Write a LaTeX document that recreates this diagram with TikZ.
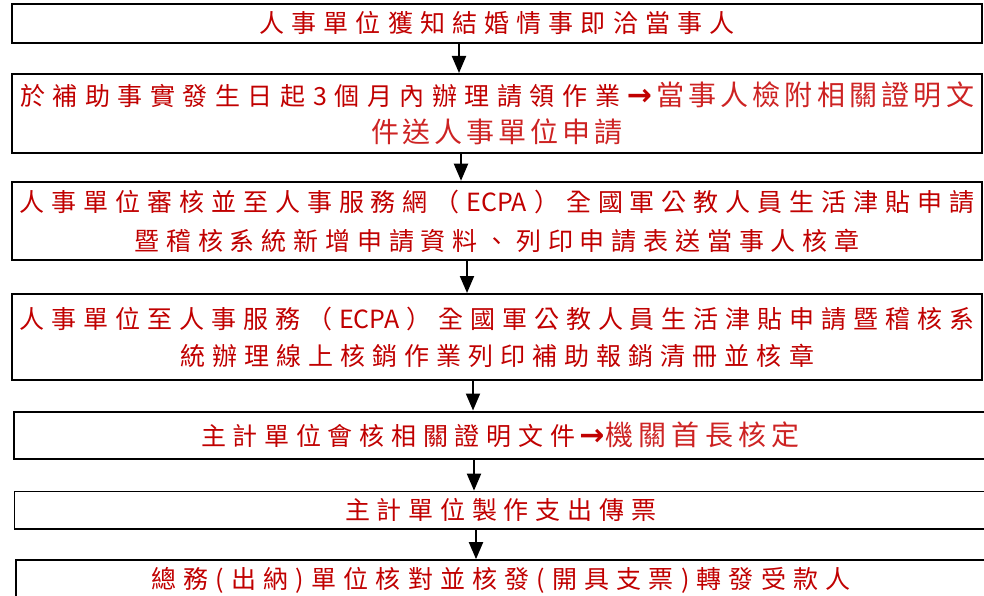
\documentclass[tikz,border=0pt]{standalone}
\usepackage{fontspec}
\newfontfamily\cjk{Noto Sans CJK TC}
\newfontfamily\symf{DejaVu Sans}
\usetikzlibrary{arrows.meta}
\definecolor{txtred}{RGB}{192,0,0}
\definecolor{txtredb}{RGB}{205,35,35}
% spread the characters of a line evenly over a given width
\def\sprloop#1{\ifx#1\relax\else\hskip 0pt plus 1fil\relax#1\expandafter\sprloop\fi}
\def\sprstart#1{#1\sprloop}
\newcommand\spr[2]{\leavevmode\hbox to #1pt{\sprstart#2\relax}}
\newcommand\ecpa{ECPA}
\newcommand\sprb[2]{{\fontsize{28}{37}\selectfont\color{txtredb}\spr{#1}{#2}}}
\newcommand\rarr[1]{\hbox to #1pt{\hss{\symf\bfseries\fontsize{30}{30}\selectfont\color{txtred}→}\hss}}
\begin{document}
\begin{tikzpicture}[x=1pt,y=-1pt,
  flowbox/.style={draw=black,line width=2pt,inner sep=0pt,align=center,
    text=txtred,font={\cjk\fontsize{25}{37}\selectfont}},
  arr/.style={line width=2pt,-{Triangle[length=17pt,width=14pt]}}]
\clip (0,0) rectangle (984,596);
\node[flowbox,minimum width=970pt,minimum height=39pt] (b1) at (497,23.5)
  {\spr{475}{人事單位獲知結婚情事即洽當事人}};
\node[flowbox,minimum width=970pt,minimum height=79pt] (b2) at (497,113.5)
  {\spr{600}{於補助事實發生日起3個月內辦理請領作業}\hspace{6pt}\rarr{27}\hspace{3pt}\sprb{318}{當事人檢附相關證明文}\\
   \sprb{252}{件送人事單位申請}};
\node[flowbox,minimum width=970pt,minimum height=78.5pt] (b3) at (497,221)
  {\spr{955}{人事單位審核並至人事服務網（\ecpa）全國軍公教人員生活津貼申請}\\[2pt]
   \spr{725}{暨稽核系統新增申請資料、列印申請表送當事人核章}};
\node[flowbox,minimum width=970pt,minimum height=86pt] (b4) at (497,337)
  {\spr{955}{人事單位至人事服務（\ecpa）全國軍公教人員生活津貼申請暨稽核系}\\
   \spr{634}{統辦理線上核銷作業列印補助報銷清冊並核章}};
\node[flowbox,minimum width=974pt,minimum height=47.5pt] (b5) at (500.5,435.25)
  {\spr{374}{主計單位會核相關證明文件}\hspace{5pt}\rarr{24}\hspace{1pt}\sprb{195}{機關首長核定}};
\node[flowbox,line width=1.7pt,minimum width=972pt,minimum height=37.5pt] (b6) at (500.5,510.25)
  {\spr{311}{主計單位製作支出傳票}};
\node[flowbox,line width=1.7pt,minimum width=970pt,minimum height=40pt] (b7) at (501,580)
  {\spr{699}{總務(出納)單位核對並核發(開具支票)轉發受款人}};
\draw[arr] (b1.south -| 459,0) -- (b2.north -| 459,0);
\draw[arr] (b2.south -| 461,0) -- (b3.north -| 461,0);
\draw[arr] (b3.south -| 467,0) -- (b4.north -| 467,0);
\draw[arr] (b4.south -| 473,0) -- (b5.north -| 473,0);
\draw[arr] (b5.south -| 474,0) -- (b6.north -| 474,0);
\draw[arr] (b6.south -| 476,0) -- (b7.north -| 476,0);
\end{tikzpicture}
\end{document}
